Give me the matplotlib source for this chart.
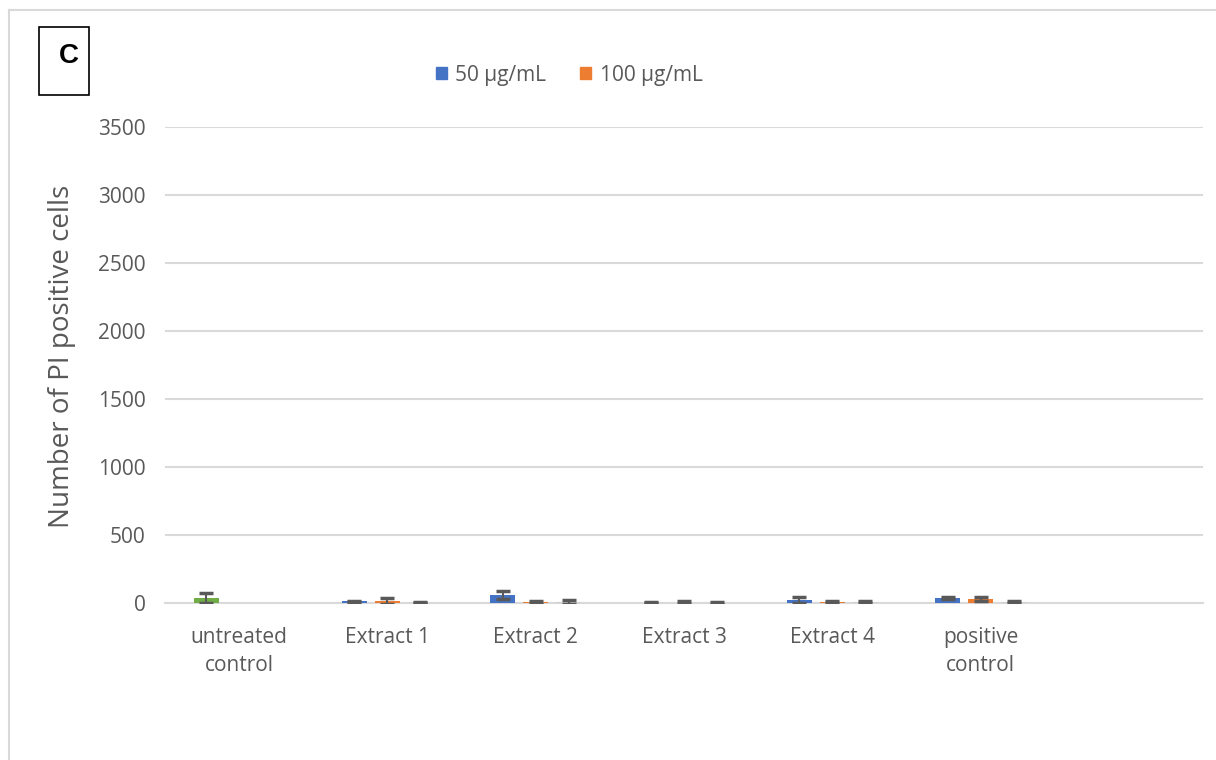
import numpy as np
import matplotlib
matplotlib.use("Agg")
import matplotlib.pyplot as plt
from matplotlib.patches import Rectangle
from matplotlib.lines import Line2D

nan = np.nan
categories = ["untreated\ncontrol", "Extract 1", "Extract 2", "Extract 3", "Extract 4", "positive\ncontrol", ""]
ctrl_vals = [37, nan, nan, nan, nan, nan, nan]
ctrl_err = [35, nan, nan, nan, nan, nan, nan]
s50_vals = [nan, 12, 60, 2, 22, 37, nan]
s50_err = [nan, 5, 28, 3, 22, 8, nan]
s100_vals = [nan, 12, 4, 3, 10, 29, nan]
s100_err = [nan, 22, 8, 9, 8, 14, nan]
s3_vals = [nan, 3, 8, 3, 6, 6, nan]
s3_err = [nan, 4, 12, 8, 8, 8, nan]
legend_labels = ["50 µg/mL", "100 µg/mL"]
yticks = [0, 500, 1000, 1500, 2000, 2500, 3000, 3500]

W, H = 1216, 760
fig = plt.figure(figsize=(W / 100, H / 100), dpi=100)
plt.rcParams['font.family'] = ['Open Sans', 'DejaVu Sans']

def fx(px):
    return px / W

def fy(py):
    return 1 - py / H

# outer frame
fig.add_artist(Line2D([fx(9), fx(9)], [fy(10), fy(760)], color='#D9D9D9', lw=1.5, transform=fig.transFigure))
fig.add_artist(Line2D([fx(9), fx(1216)], [fy(10), fy(10)], color='#D9D9D9', lw=1.5, transform=fig.transFigure))

ax = fig.add_axes([fx(165), fy(603), fx(1203) - fx(165), fy(127) - fy(603)])
x = np.arange(len(categories))
off = 33 / 148
bw = 25 / 148
ekw = dict(ecolor='#595959', capsize=5, elinewidth=1.5, capthick=2.5)

ax.bar(x - off, ctrl_vals, bw, color='#70AD47', yerr=ctrl_err, error_kw=ekw, zorder=3)
ax.bar(x - off, s50_vals, bw, color='#4472C4', yerr=s50_err, error_kw=ekw, zorder=3)
ax.bar(x, s100_vals, bw, color='#ED7D31', yerr=s100_err, error_kw=ekw, zorder=3)
ax.bar(x + off, s3_vals, bw, color='#D0D0D0', yerr=s3_err, error_kw=ekw, zorder=3)

ax.set_xlim(-0.5, len(categories) - 0.5)
ax.set_ylim(0, 3500)
ax.set_yticks(yticks)
ax.set_yticklabels([str(t) for t in yticks], fontsize=15, color='#595959')
ax.set_xticks(x)
ax.set_xticklabels(categories, fontsize=15, color='#595959', linespacing=1.45)
ax.tick_params(axis='both', length=0)
ax.tick_params(axis='y', pad=14)
ax.tick_params(axis='x', pad=17)
ax.grid(axis='y', color='#D9D9D9', lw=1.5, zorder=0)
for s in ['top', 'right', 'left']:
    ax.spines[s].set_visible(False)
ax.spines['bottom'].set_color('#D9D9D9')
ax.spines['bottom'].set_linewidth(1.5)
ax.set_ylabel("Number of PI positive cells", fontsize=20, color='#595959')
ax.yaxis.set_label_coords((76 - 165) / (1203 - 165), (603 - 356) / 476)

# legend
handles = [Rectangle((0, 0), 1, 1, color='#4472C4'), Rectangle((0, 0), 1, 1, color='#ED7D31')]
fig.legend(handles, legend_labels, loc='center', bbox_to_anchor=(fx(569), fy(75)), ncol=2,
           frameon=False, fontsize=15, handlelength=0.55, handleheight=0.55, handletextpad=0.4,
           columnspacing=1.6, labelcolor='#595959')

# "C" box
fig.add_artist(Rectangle((fx(39), fy(95)), fx(89) - fx(39), fy(27) - fy(95), fill=False,
                         edgecolor='black', lw=1.2, transform=fig.transFigure))
fig.text(fx(69), fy(56), "C", fontsize=20, fontweight='bold', family='Liberation Sans',
         ha='center', va='center')

fig.savefig("out.png", dpi=100)
